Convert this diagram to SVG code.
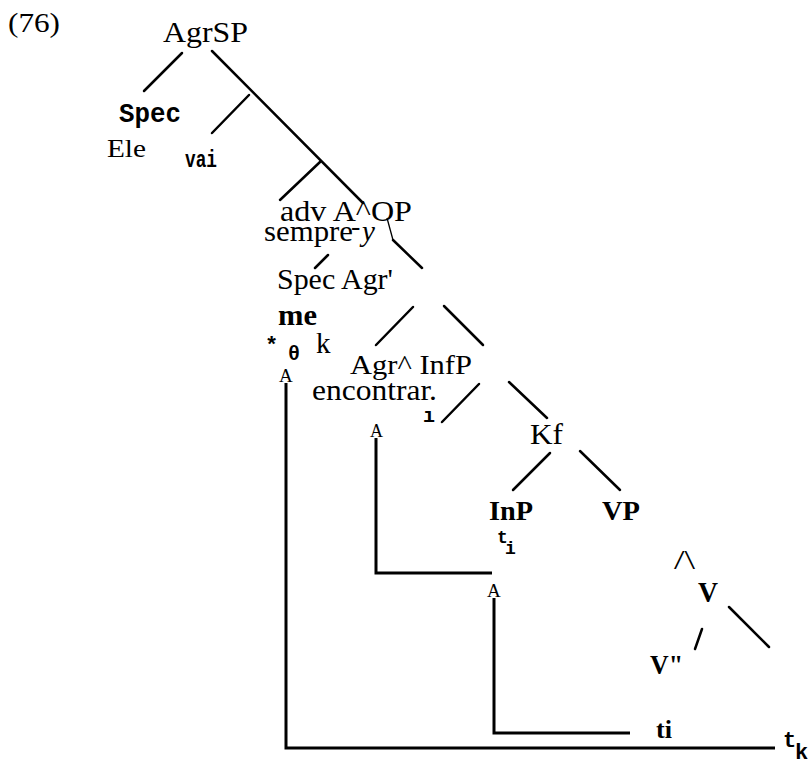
<svg xmlns="http://www.w3.org/2000/svg" width="811" height="763" viewBox="0 0 811 763">
<style>
.s{font-family:"Liberation Serif","Times New Roman",serif;fill:#000}
.b{font-family:"Liberation Serif","Times New Roman",serif;font-weight:bold;fill:#000}
.m{font-family:"Liberation Mono","DejaVu Sans Mono",monospace;font-weight:bold;fill:#000}
.e{stroke:#000;stroke-width:2.5;fill:none;stroke-linecap:round}
.t{stroke:#000;stroke-width:1.3;fill:none}
.a{stroke:#000;stroke-width:3;fill:none}
</style>
<rect width="811" height="763" fill="#fff"/>
<g id="label"><text class="s" x="8" y="32" font-size="28" textLength="52" lengthAdjust="spacingAndGlyphs">(76)</text></g>
<g id="agrsp"><text class="s" x="163" y="42" font-size="29" textLength="85" lengthAdjust="spacingAndGlyphs">AgrSP</text></g>
<g id="spec1"><text class="m" x="119" y="122" font-size="28" textLength="62" lengthAdjust="spacingAndGlyphs">Spec</text>
<text class="s" x="107" y="157" font-size="26" textLength="39" lengthAdjust="spacingAndGlyphs">Ele</text></g>
<g id="vai"><text class="m" x="185" y="167" font-size="23" textLength="32" lengthAdjust="spacingAndGlyphs">vai</text></g>
<g id="aop"><text class="s" x="280" y="221" font-size="29" textLength="132" lengthAdjust="spacingAndGlyphs">adv A^OP</text>
<text class="s" x="264" y="241" font-size="29" textLength="89" lengthAdjust="spacingAndGlyphs">sempre</text>
<text class="s" x="351" y="235" font-size="28">-</text>
<text class="s" x="362" y="241" font-size="29" font-style="italic">y</text></g>
<g id="specagr"><text class="s" x="277" y="289" font-size="29" textLength="116" lengthAdjust="spacingAndGlyphs">Spec Agr'</text></g>
<g id="me"><text class="b" x="278" y="325" font-size="29" textLength="39" lengthAdjust="spacingAndGlyphs">me</text>
<text class="m" x="265" y="352" font-size="22">*</text>
<text class="m" x="288" y="360" font-size="20">θ</text>
<text class="s" x="316" y="353" font-size="29">k</text>
<text class="s" x="279" y="382" font-size="19">A</text></g>
<g id="agrinfp"><text class="s" x="350" y="374" font-size="28" textLength="122" lengthAdjust="spacingAndGlyphs">Agr^ InfP</text>
<text class="s" x="312" y="400" font-size="29" textLength="125" lengthAdjust="spacingAndGlyphs">encontrar.</text>
<text class="m" x="423" y="422" font-size="20">ı</text>
<text class="s" x="370" y="437" font-size="18">A</text></g>
<g id="kf"><text class="s" x="530" y="444" font-size="29" textLength="33" lengthAdjust="spacingAndGlyphs">Kf</text></g>
<g id="inp"><text class="b" x="489" y="520" font-size="28" textLength="44" lengthAdjust="spacingAndGlyphs">InP</text>
<text class="m" x="497" y="543" font-size="18">t</text>
<text class="m" x="505" y="554" font-size="18">i</text></g>
<g id="vp"><text class="b" x="602" y="520" font-size="28" textLength="38" lengthAdjust="spacingAndGlyphs">VP</text>
<text class="s" x="674" y="569" font-size="28" textLength="21" lengthAdjust="spacingAndGlyphs">/\</text></g>
<g id="a3"><text class="s" x="487" y="597" font-size="19">A</text></g>
<g id="v"><text class="b" x="698" y="602" font-size="29" textLength="20" lengthAdjust="spacingAndGlyphs">V</text></g>
<g id="v2"><text class="b" x="650" y="674" font-size="28" textLength="33" lengthAdjust="spacingAndGlyphs">V"</text></g>
<g id="ti"><text class="b" x="656" y="738" font-size="25" textLength="16" lengthAdjust="spacingAndGlyphs">ti</text></g>
<g id="tk"><text class="m" x="783" y="747" font-size="22">t</text>
<text class="m" x="795" y="759" font-size="22">k</text></g>
<g id="connectors">
<line class="e" x1="182" y1="53" x2="144" y2="91"/>
<line class="e" x1="212" y1="51" x2="363" y2="203"/>
<line class="e" x1="249" y1="95" x2="212" y2="133"/>
<line class="e" x1="320" y1="162" x2="280" y2="200"/>
<polyline class="t" points="387,218 393,240"/>
<line class="e" x1="393" y1="240" x2="422" y2="268"/>
<line class="e" x1="328" y1="255" x2="315" y2="268"/>
<line class="e" x1="413" y1="307" x2="376" y2="345"/>
<line class="e" x1="444" y1="306" x2="483" y2="345"/>
<line class="e" x1="479" y1="384" x2="442" y2="422"/>
<line class="e" x1="509" y1="382" x2="547" y2="418"/>
<line class="e" x1="550" y1="453" x2="513" y2="490"/>
<line class="e" x1="580" y1="451" x2="620" y2="490"/>
<line class="e" x1="729" y1="607" x2="769" y2="647"/>
<line class="e" x1="702" y1="629" x2="695" y2="649" stroke-width="2"/>
<polyline class="a" points="286,383 286,748 775,748"/>
<polyline class="a" points="376,438 376,573 492,573"/>
<polyline class="a" points="494,598 494,733 630,733"/>
</g>
</svg>
